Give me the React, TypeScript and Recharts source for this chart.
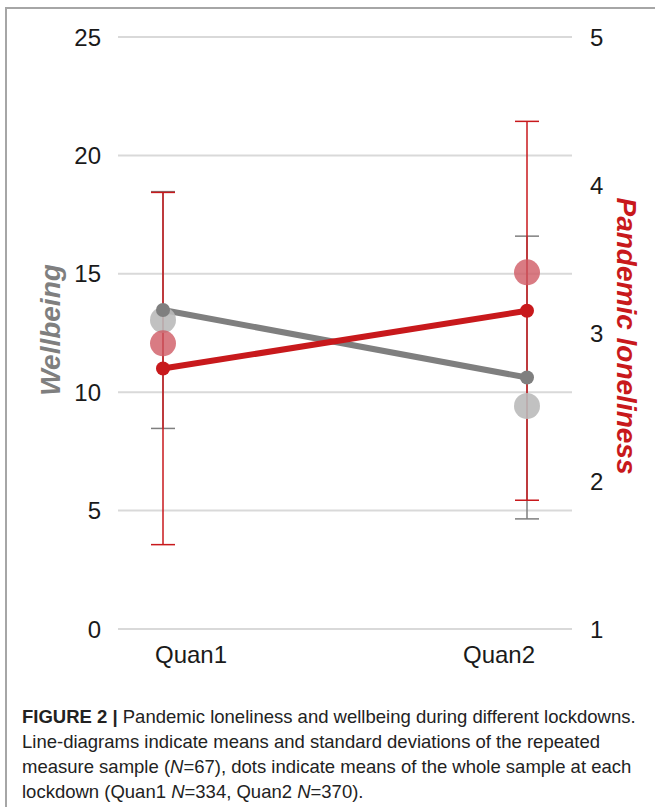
import { ComposedChart, Line, XAxis, YAxis, CartesianGrid, ErrorBar, Label } from "recharts";

const lockdowns = ["Quan1", "Quan2"];
// repeated measure sample (N=67)
const wellbeingMean = [13.47, 10.62];
const wellbeingSd = [5.0, 5.97];
const lonelinessMean = [2.76, 3.15];
const lonelinessSd = [1.19, 1.28];
// whole sample at each lockdown
const wellbeingAll = [13.05, 9.42];
const lonelinessAll = [2.93, 3.41];

const leftTicks = [0, 5, 10, 15, 20, 25];
const rightTicks = [1, 2, 3, 4, 5];

const GREY = "#7f7f7f";
const RED = "#c8191c";
const FONT = "'Liberation Sans', Arial, Helvetica, sans-serif";

const data = lockdowns.map((name, i) => ({
  name,
  wb: wellbeingMean[i],
  wbSd: wellbeingSd[i],
  wbAll: wellbeingAll[i],
  lon: lonelinessMean[i],
  lonSd: lonelinessSd[i],
  lonAll: lonelinessAll[i],
}));

const XTick = (props: any) => {
  const { x, y, payload, index } = props;
  const shift = index === 0 ? 28 : -28;
  return (
    <text x={x + shift} y={y} dy="0.71em" textAnchor="middle" fill="#1a1a1a" fontSize={24} fontFamily={FONT}>
      {payload.value}
    </text>
  );
};

const App = () => {
  return (
    <div style={{ position: "absolute", left: 0, top: 0, width: 655, height: 807, overflow: "hidden", background: "#fff", fontFamily: FONT }}>
      <div style={{ position: "absolute", left: 5, top: 7, width: 720, height: 900, borderLeft: "2px solid #a6a6a6", borderTop: "2px solid #a6a6a6" }} />
      <div style={{ position: "absolute", left: 0, top: 0 }}>
        <ComposedChart width={655} height={690} data={data} margin={{ top: 37, right: 0, left: 0, bottom: 0 }}>
          <CartesianGrid yAxisId="left" vertical={false} stroke="#d9d9d9" strokeWidth={2} />
          <XAxis
            dataKey="name"
            scale="point"
            padding={{ left: 45, right: 45 }}
            axisLine={false}
            tickLine={false}
            tickSize={0}
            tickMargin={17}
            height={61}
            tick={<XTick />}
          />
          <YAxis
            yAxisId="left"
            domain={[0, 25]}
            ticks={leftTicks}
            width={118}
            axisLine={false}
            tickLine={false}
            tickSize={0}
            tickMargin={17}
            tick={{ fill: "#1a1a1a", fontSize: 24, fontFamily: FONT }}
          >
            <Label
              content={({ viewBox }: any) => {
                const cx = viewBox.x + 50;
                const cy = viewBox.y + viewBox.height / 2 - 3;
                return (
                  <text x={cx} y={cy} transform={`rotate(-90 ${cx} ${cy})`} textAnchor="middle" dominantBaseline="central" fill={GREY} fontSize={28} fontWeight="bold" fontStyle="italic" fontFamily={FONT}>
                    Wellbeing
                  </text>
                );
              }}
            />
          </YAxis>
          <YAxis
            yAxisId="right"
            orientation="right"
            domain={[1, 5]}
            ticks={rightTicks}
            width={83}
            axisLine={false}
            tickLine={false}
            tickSize={0}
            tickMargin={18}
            tick={{ fill: "#1a1a1a", fontSize: 24, fontFamily: FONT }}
          >
            <Label
              content={({ viewBox }: any) => {
                const cx = viewBox.x + 54;
                const cy = viewBox.y + viewBox.height / 2 + 3;
                return (
                  <text x={cx} y={cy} transform={`rotate(90 ${cx} ${cy})`} textAnchor="middle" dominantBaseline="central" fill={RED} fontSize={28} fontWeight="bold" fontStyle="italic" fontFamily={FONT}>
                    Pandemic loneliness
                  </text>
                );
              }}
            />
          </YAxis>
          <Line
            yAxisId="left"
            dataKey="wbAll"
            stroke="none"
            dot={{ r: 13, fill: "#bababa", fillOpacity: 0.9, stroke: "none" }}
            activeDot={false}
            isAnimationActive={false}
          />
          <Line
            yAxisId="right"
            dataKey="lonAll"
            stroke="none"
            dot={{ r: 13, fill: "#d05a64", fillOpacity: 0.8, stroke: "none" }}
            activeDot={false}
            isAnimationActive={false}
          />
          <Line
            yAxisId="left"
            dataKey="wb"
            stroke={GREY}
            strokeWidth={6}
            dot={{ r: 7, fill: GREY, stroke: "none" }}
            activeDot={false}
            isAnimationActive={false}
          >
            <ErrorBar dataKey="wbSd" direction="y" width={12} stroke={GREY} strokeWidth={1.5} />
          </Line>
          <Line
            yAxisId="right"
            dataKey="lon"
            stroke={RED}
            strokeWidth={6}
            dot={{ r: 7, fill: RED, stroke: "none" }}
            activeDot={false}
            isAnimationActive={false}
          >
            <ErrorBar dataKey="lonSd" direction="y" width={12} stroke={RED} strokeWidth={1.5} />
          </Line>
        </ComposedChart>
      </div>
      <div style={{ position: "absolute", left: 22, top: 704, fontSize: 18.5, lineHeight: "25px", color: "#222" }}>
        <b>FIGURE 2 | </b>Pandemic loneliness and wellbeing during different lockdowns.
        <br />
        Line-diagrams indicate means and standard deviations of the repeated
        <br />
        measure sample (<i>N</i>=67), dots indicate means of the whole sample at each
        <br />
        lockdown (Quan1 <i>N</i>=334, Quan2 <i>N</i>=370).
      </div>
    </div>
  );
};

export default App;
